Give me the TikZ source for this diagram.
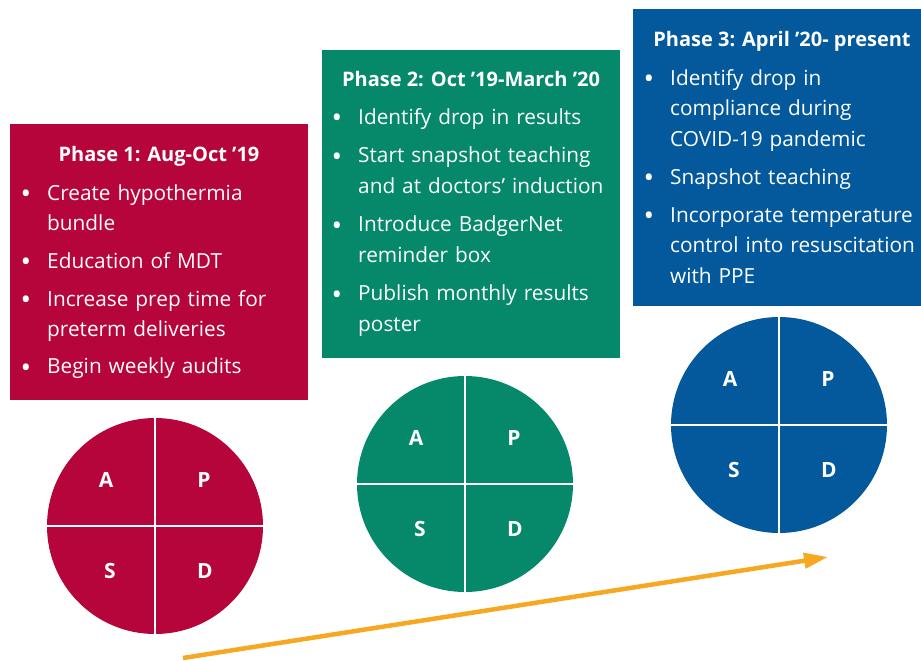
\documentclass[tikz,border=0pt]{standalone}
\usepackage{fontspec}
\setmainfont{Open Sans}
\usetikzlibrary{arrows.meta}

\definecolor{phaseone}{HTML}{B5053A}
\definecolor{phasetwo}{HTML}{05896A}
\definecolor{phasethree}{HTML}{03599B}
\definecolor{trend}{HTML}{F7A823}

% bullet hung to the left of the first line of an item
\newcommand\bul{\llap{\raisebox{-3.6pt}{\scalebox{1.35}{\textbullet}}\hspace{16pt}}}

\tikzset{
  panel/.style={inner sep=0, outer sep=0, anchor=north west, draw=none},
  heading/.style={font=\bfseries\fontsize{20}{24}\selectfont, text=white, anchor=base, inner sep=0},
  point/.style={font=\fontsize{20.8}{30.5}\selectfont, text=white, anchor=base west,
                inner sep=0, text width=270pt, align=left},
  cyclewheel/.style={circle, minimum size=216pt, inner sep=0, outer sep=0, draw=none},
  divider/.style={draw=white, line width=1.4pt},
  quadrant/.style={font=\bfseries\fontsize{21}{24}\selectfont, text=white, inner sep=0},
  trendline/.style={draw=trend, line width=4.5pt, -{Triangle[length=24pt,width=15pt]}},
}

\begin{document}
\begin{tikzpicture}[x=1pt, y=-1pt]
\useasboundingbox (0,0) rectangle (921,661);

% ---------- Phase 1 ----------
\node[panel, fill=phaseone, minimum width=298pt, minimum height=276pt] (box1) at (10,124) {};
\node[heading] (title1) at (159,161) {Phase 1: Aug-Oct ’19};
\node[point] (p1a) at (47,200)   {\bul Create hypothermia\\bundle};
\node[point] (p1b) at (47,268)   {\bul Education of MDT};
\node[point] (p1c) at (47,306)   {\bul Increase prep time for\\preterm deliveries};
\node[point] (p1d) at (47,373.5) {\bul Begin weekly audits};

% ---------- Phase 2 ----------
\node[panel, fill=phasetwo, minimum width=298pt, minimum height=308pt] (box2) at (322,50) {};
\node[heading] (title2) at (471,86) {Phase 2: Oct ’19-March ’20};
\node[point] (p2a) at (358,124)   {\bul Identify drop in results};
\node[point] (p2b) at (358,162.5) {\bul Start snapshot teaching\\and at doctors’ induction};
\node[point] (p2c) at (358,231.5) {\bul Introduce BadgerNet\\reminder box};
\node[point] (p2d) at (358,300.5) {\bul Publish monthly results\\poster};

% ---------- Phase 3 ----------
\node[panel, fill=phasethree, minimum width=288pt, minimum height=297pt] (box3) at (633,9) {};
\node[heading] (title3) at (782,46.5) {Phase 3: April ’20- present};
\node[point] (p3a) at (670,85)    {\bul Identify drop in\\compliance during\\COVID-19 pandemic};
\node[point] (p3b) at (670,184)   {\bul Snapshot teaching};
\node[point] (p3c) at (670,222)   {\bul Incorporate temperature\\control into resuscitation\\with PPE};

% ---------- PDSA wheels ----------
\node[cyclewheel, fill=phaseone]   (c1) at (155,526) {};
\node[cyclewheel, fill=phasetwo]   (c2) at (465,484) {};
\node[cyclewheel, fill=phasethree] (c3) at (779,425) {};

\foreach \c in {c1,c2,c3}{
  \draw[divider] (\c.north) -- (\c.south);
  \draw[divider] (\c.west) -- (\c.east);
  \node[quadrant] (\c A) at ([shift={(-49,-46)}]\c.center) {A};
  \node[quadrant] (\c P) at ([shift={(49,-46)}]\c.center)  {P};
  \node[quadrant] (\c S) at ([shift={(-45,45)}]\c.center)  {S};
  \node[quadrant] (\c D) at ([shift={(50,45)}]\c.center)   {D};
}

% ---------- progress arrow ----------
\coordinate (trendstart) at (183,658);
\coordinate (trendend) at (828,557);
\draw[trendline] (trendstart) -- (trendend);
\end{tikzpicture}
\end{document}
